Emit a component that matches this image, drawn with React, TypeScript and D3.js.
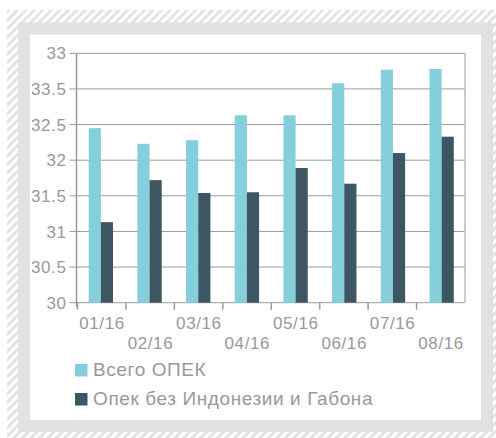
import React, { useEffect, useRef } from "react";
import * as d3 from "d3";

const months = ["01/16", "02/16", "03/16", "04/16", "05/16", "06/16", "07/16", "08/16"];
const totalOpec = [32.45, 32.23, 32.28, 32.63, 32.63, 33.08, 33.27, 33.28];
const opecExcl = [31.13, 31.72, 31.54, 31.55, 31.89, 31.67, 32.1, 32.33];
const tickValues = [30, 30.5, 31, 31.5, 32, 32.5, 33, 33.5];
// labels exactly as printed on the original chart
const tickLabels = ["30", "30.5", "31", "31.5", "32", "32.5", "33.5", "33"];
const seriesNames = ["Всего ОПЕК", "Опек без Индонезии и Габона"];
const colors = ["#85cedb", "#3d5661"];

const App = () => {
  const svgRef = useRef<SVGSVGElement>(null);

  useEffect(() => {
    const width = 496;
    const height = 438;
    const svg = d3.select(svgRef.current).attr("width", width).attr("height", height);
    svg.selectAll("*").remove();

    const font = "'Liberation Sans', Arial, sans-serif";
    const textColor = "#999";

    // hatched background frame
    const defs = svg.append("defs");
    const pat = defs
      .append("pattern")
      .attr("id", "hatch")
      .attr("patternUnits", "userSpaceOnUse")
      .attr("width", 6)
      .attr("height", 6)
      .attr("patternTransform", "rotate(45)");
    pat.append("rect").attr("width", 6).attr("height", 6).attr("fill", "#fff");
    pat.append("rect").attr("width", 3).attr("height", 6).attr("fill", "#e3e3e3");

    svg.append("rect").attr("x", 7).attr("y", 10).attr("width", 500).attr("height", 440).attr("fill", "url(#hatch)");
    svg
      .append("rect")
      .attr("x", 24)
      .attr("y", 28.5)
      .attr("width", 463)
      .attr("height", 397.5)
      .attr("fill", "#fff")
      .attr("stroke", "#e2e2e2")
      .attr("stroke-width", 12);

    const left = 76.5;
    const right = 465;
    const top = 53.3;
    const bottom = 302.7;

    const x = d3.scaleBand().domain(months).range([left + 1, right]).paddingInner(0.5).paddingOuter(0.23);
    const band = d3.scaleBand().domain(months).range([left + 1, right]);
    const y = d3.scaleLinear().domain([30, 33.5]).range([bottom, top]);

    const g = svg.append("g");

    // gridlines
    g.selectAll("line.grid")
      .data(tickValues)
      .enter()
      .append("line")
      .attr("x1", left - 7)
      .attr("x2", right)
      .attr("y1", (d) => y(d))
      .attr("y2", (d) => y(d))
      .attr("stroke", "#9a9a9a")
      .attr("stroke-width", 1);

    // right border
    g.append("line")
      .attr("x1", right)
      .attr("x2", right)
      .attr("y1", top)
      .attr("y2", bottom)
      .attr("stroke", "#bbb")
      .attr("stroke-width", 1.5);

    // y labels
    g.selectAll("text.ylab")
      .data(tickValues)
      .enter()
      .append("text")
      .attr("x", left - 10)
      .attr("y", (d) => y(d))
      .attr("dy", "0.36em")
      .attr("text-anchor", "end")
      .attr("font-family", font)
      .attr("font-size", 17)
      .attr("letter-spacing", 0.6)
      .attr("fill", textColor)
      .text((d, i) => tickLabels[i]);

    const bw = x.bandwidth() / 2;
    const series = [totalOpec, opecExcl];
    series.forEach((vals, si) => {
      g.selectAll(`rect.s${si}`)
        .data(vals)
        .enter()
        .append("rect")
        .attr("x", (d, i) => (x(months[i]) as number) + si * bw)
        .attr("y", (d) => y(d))
        .attr("width", bw)
        .attr("height", (d) => bottom - y(d))
        .attr("fill", colors[si]);
    });

    // axes lines
    g.append("line")
      .attr("x1", left)
      .attr("x2", left)
      .attr("y1", top)
      .attr("y2", bottom + 4)
      .attr("stroke", "#9a9a9a")
      .attr("stroke-width", 1.5);

    g.selectAll("line.xtick")
      .data(months)
      .enter()
      .append("line")
      .attr("x1", (d) => band(d) as number)
      .attr("x2", (d) => band(d) as number)
      .attr("y1", bottom)
      .attr("y2", bottom + 7)
      .attr("stroke", "#9a9a9a")
      .attr("stroke-width", 1.5);

    g.selectAll("text.xlab")
      .data(months)
      .enter()
      .append("text")
      .attr("x", (d) => (band(d) as number) + band.bandwidth() / 2 + 0.3)
      .attr("y", (d, i) => (i % 2 === 0 ? 329 : 348.5))
      .attr("text-anchor", "middle")
      .attr("font-family", font)
      .attr("font-size", 17)
      .attr("letter-spacing", 0.6)
      .attr("fill", textColor)
      .text((d) => d);

    // legend
    seriesNames.forEach((name, i) => {
      const ly = 364 + i * 29;
      svg.append("rect").attr("x", 75).attr("y", ly).attr("width", 12.5).attr("height", 12.5).attr("fill", colors[i]);
      svg
        .append("text")
        .attr("x", 93)
        .attr("y", ly + 12.3)
        .attr("font-family", font)
        .attr("font-size", 19)
        .attr("letter-spacing", 0.6)
        .attr("fill", textColor)
        .text(name);
    });
  }, []);

  return <svg ref={svgRef} style={{ position: "absolute", left: 0, top: 0 }}></svg>;
};

export default App;
